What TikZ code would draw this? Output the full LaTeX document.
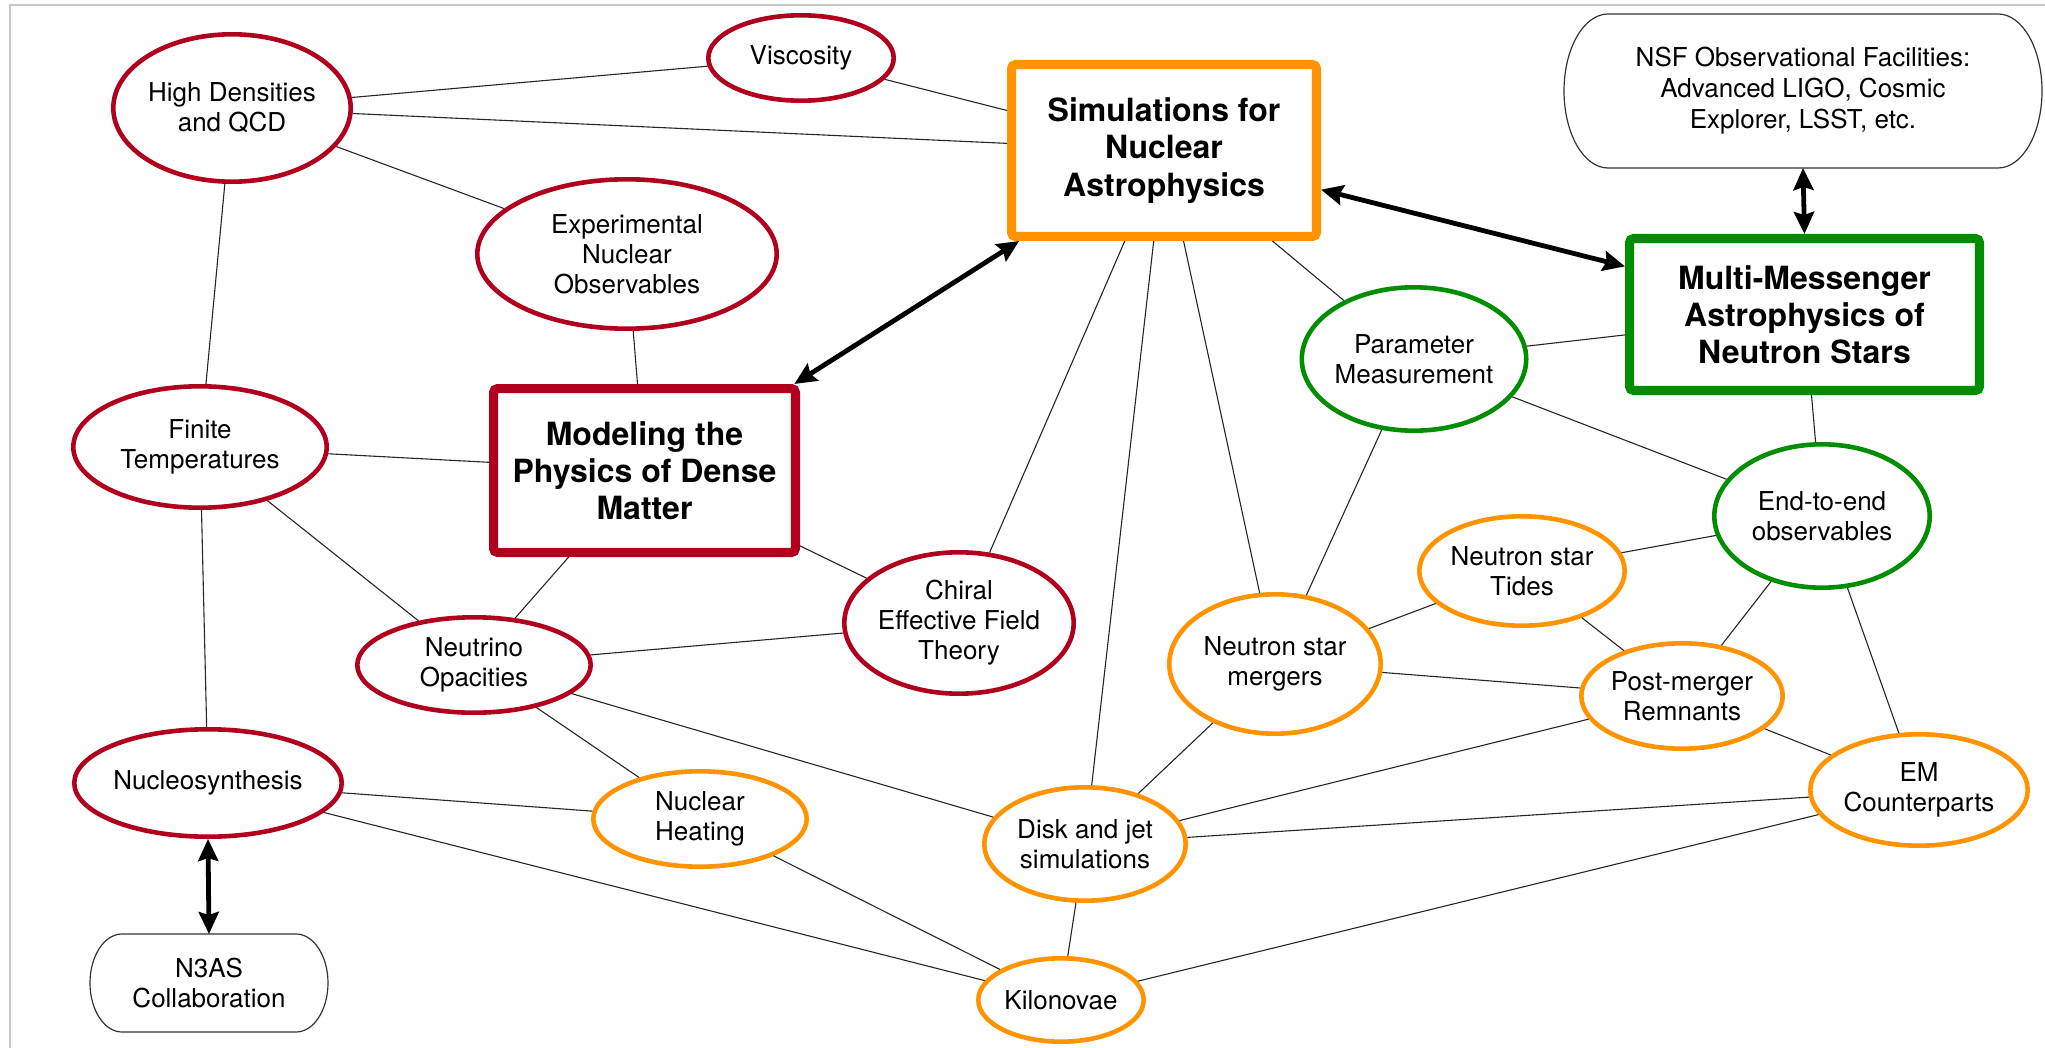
\documentclass[tikz,border=0pt]{standalone}
\usepackage{fontspec}
\setmainfont{TeX Gyre Heros}
\usetikzlibrary{shapes.geometric,arrows.meta}
\definecolor{cred}{HTML}{B0001E}
\definecolor{corange}{HTML}{FF9300}
\definecolor{cgreen}{HTML}{008E00}
\begin{document}
\begin{tikzpicture}[x=0.5pt,y=-0.5pt,
 ell/.style={ellipse, draw=#1, line width=2.3pt, fill=white, inner sep=0pt, align=center, font=\fontsize{13}{15}\selectfont},
 bigbox/.style={rectangle, draw=#1, line width=4.6pt, rounded corners=2pt, fill=white, inner sep=0pt, align=center, font=\bfseries\fontsize{16}{18.6}\selectfont},
 term/.style={rectangle, inner sep=0pt, outer sep=0pt, align=center, font=\fontsize{13}{15.5}\selectfont},
 termline/.style={line width=0.6pt, draw=black!80},
 conn/.style={line width=0.55pt, draw=black!85},
 tip/.tip={Stealth[length=11pt,width=10pt,inset=1.5pt]},
 bigarrow/.style={line width=2.4pt, draw=black, tip-tip},
]
\useasboundingbox (0,0) rectangle (2045,1048);
\draw[black!22, line width=1pt] (10,1048) -- (10,5) -- (2045,5);

% red ellipses
\node[ell=cred, minimum width=118.7pt, minimum height=73.7pt] (hd) at (232,108) {High Densities\\and QCD};
\node[ell=cred, minimum width=92.7pt, minimum height=42.7pt] (visc) at (801,58) {Viscosity};
\node[ell=cred, minimum width=149.7pt, minimum height=74.7pt] (exp) at (627,254) {Experimental\\Nuclear\\Observables};
\node[ell=cred, minimum width=126.7pt, minimum height=60.7pt] (fin) at (200,447) {Finite\\Temperatures};
\node[ell=cred, minimum width=116.7pt, minimum height=47.7pt] (neu) at (474,665) {Neutrino\\Opacities};
\node[ell=cred, minimum width=126.7pt, minimum height=53.7pt] (nuc) at (208,783) {Nucleosynthesis};
\node[ell=cred, minimum width=110.7pt, minimum height=70.7pt] (chi) at (959,623) {Chiral\\Effective Field\\Theory};

% orange ellipses
\node[ell=corange, minimum width=106.7pt, minimum height=47.7pt] (heat) at (700,819) {Nuclear\\Heating};
\node[ell=corange, minimum width=102.7pt, minimum height=54.7pt] (tid) at (1522,571) {Neutron star\\Tides};
\node[ell=corange, minimum width=105.7pt, minimum height=69.7pt] (mer) at (1275,664) {Neutron star\\mergers};
\node[ell=corange, minimum width=100.7pt, minimum height=52.7pt] (post) at (1682,696) {Post-merger\\Remnants};
\node[ell=corange, minimum width=108.7pt, minimum height=55.7pt] (em) at (1919,790) {EM\\Counterparts};
\node[ell=corange, minimum width=100.7pt, minimum height=56.7pt] (disk) at (1085,844) {Disk and jet\\simulations};
\node[ell=corange, minimum width=82.7pt, minimum height=41.7pt] (kil) at (1061,1000) {Kilonovae};

% green ellipses
\node[ell=cgreen, minimum width=106.7pt, minimum height=71.7pt] (par) at (1414,359) {Parameter\\Measurement};
\node[ell=cgreen, minimum width=107.7pt, minimum height=71.7pt] (e2e) at (1822,516) {End-to-end\\observables};

% big boxes
\node[bigbox=cred, minimum width=150.9pt, minimum height=81.9pt] (model) at (644.5,470.5) {Modeling the\\Physics of Dense\\Matter};
\node[bigbox=corange, minimum width=152.4pt, minimum height=85.9pt] (sim) at (1164,150.5) {Simulations for\\Nuclear\\Astrophysics};
\node[bigbox=cgreen, minimum width=174.9pt, minimum height=75.9pt] (mm) at (1804.5,314.5) {Multi-Messenger\\Astrophysics of\\Neutron Stars};

% terminal boxes
\node[term, minimum width=239pt, minimum height=77pt] (nsf) at (1803,91) {NSF Observational Facilities:\\Advanced LIGO, Cosmic\\Explorer, LSST, etc.};
\draw[termline] ([xshift=22pt]nsf.north west) -- ([xshift=-22pt]nsf.north east)
  arc[start angle=90,end angle=-90,x radius=22pt,y radius=38.5pt]
  -- ([xshift=22pt]nsf.south west)
  arc[start angle=270,end angle=90,x radius=22pt,y radius=38.5pt] -- cycle;
\node[term, minimum width=119pt, minimum height=49pt, font=\fontsize{13}{15}\selectfont] (n3as) at (209,983) {N3AS\\Collaboration};
\draw[termline] ([xshift=16pt]n3as.north west) -- ([xshift=-16pt]n3as.north east)
  arc[start angle=90,end angle=-90,x radius=16pt,y radius=24.5pt]
  -- ([xshift=16pt]n3as.south west)
  arc[start angle=270,end angle=90,x radius=16pt,y radius=24.5pt] -- cycle;

% connectors
\draw[conn] (hd) -- (visc);
\draw[conn] (hd) -- (sim);
\draw[conn] (hd) -- (exp);
\draw[conn] (hd) -- (fin);
\draw[conn] (visc) -- (sim);
\draw[conn] (exp) -- (model);
\draw[conn] (fin) -- (model);
\draw[conn] (fin) -- (neu);
\draw[conn] (fin) -- (nuc);
\draw[conn] (model) -- (neu);
\draw[conn] (model) -- (chi);
\draw[conn] (chi) -- (sim);
\draw[conn] (chi) -- (neu);
\draw[conn] (neu) -- (heat);
\draw[conn] (neu) -- (disk);
\draw[conn] (nuc) -- (heat);
\draw[conn] (nuc) -- (kil);
\draw[conn] (heat) -- (kil);
\draw[conn] (sim) -- (disk);
\draw[conn] (sim) -- (mer);
\draw[conn] (sim) -- (par);
\draw[conn] (mm) -- (par);
\draw[conn] (mm) -- (e2e);
\draw[conn] (par) -- (e2e);
\draw[conn] (par) -- (mer);
\draw[conn] (e2e) -- (tid);
\draw[conn] (e2e) -- (post);
\draw[conn] (e2e) -- (em);
\draw[conn] (mer) -- (tid);
\draw[conn] (mer) -- (post);
\draw[conn] (mer) -- (disk);
\draw[conn] (tid) -- (post);
\draw[conn] (post) -- (em);
\draw[conn] (post) -- (disk);
\draw[conn] (em) -- (disk);
\draw[conn] (em) -- (kil);
\draw[conn] (disk) -- (kil);

% thick double arrows
\draw[bigarrow] (model.30) -- (sim.212);
\draw[bigarrow] (sim.-14) -- (mm.165);
\draw[bigarrow] (nsf.south) -- (mm.north);
\draw[bigarrow] (nuc.south) -- (n3as.north);
\end{tikzpicture}
\end{document}
